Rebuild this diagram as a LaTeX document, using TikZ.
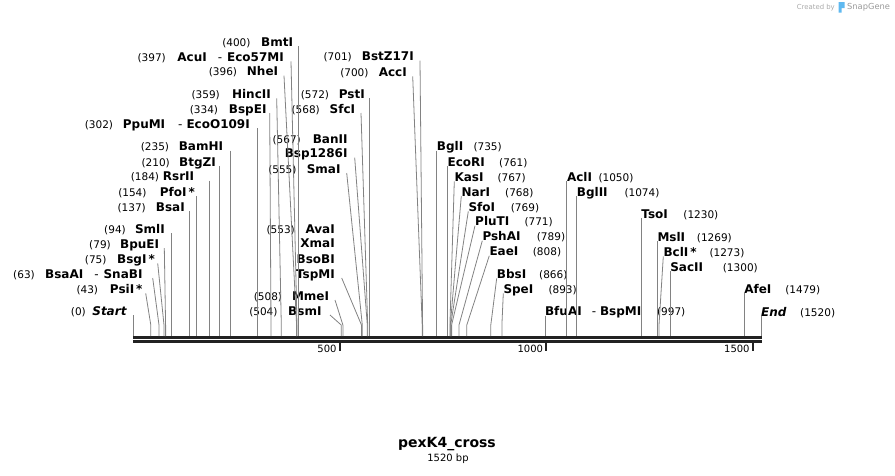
\documentclass[tikz,border=0pt]{standalone}
\usepackage{fontspec}
\setmainfont{DejaVu Sans}
\definecolor{sitegray}{RGB}{130,130,130}
\definecolor{bardark}{RGB}{34,34,34}
\definecolor{markgray}{RGB}{170,170,170}
\definecolor{snapblue}{RGB}{95,185,240}
\newcommand{\cutpos}[1]{{\fontsize{10.5}{12}\selectfont\mdseries(#1)}}

\begin{document}
\begin{tikzpicture}[x=1pt,y=-1pt]
\tikzstyle{every node}+=[inner sep=0pt]
\tikzstyle{lft}=[anchor=base east, font=\fontsize{12}{14}\selectfont\bfseries]
\tikzstyle{rgt}=[anchor=base west, font=\fontsize{12}{14}\selectfont\bfseries]
\tikzstyle{site}=[draw=sitegray, line width=0.8pt]
\tikzstyle{tick}=[draw=bardark, line width=1.8pt]
\useasboundingbox (0,0) rectangle (895,475);
\fill [bardark] (133,336) rectangle (761.5,339);
\fill [bardark] (133,340.3) rectangle (761.5,342.6);
\coordinate (bend) at (0,325);
\coordinate (s0) at (133,336);
\coordinate (s43) at (150.8,336);
\coordinate (s63) at (159,336);
\coordinate (s75) at (164,336);
\coordinate (s79) at (165.6,336);
\coordinate (s94) at (171.8,336);
\coordinate (s137) at (189.6,336);
\coordinate (s154) at (196.6,336);
\coordinate (s184) at (209,336);
\coordinate (s210) at (219.8,336);
\coordinate (s235) at (230.1,336);
\coordinate (s302) at (257.8,336);
\coordinate (s334) at (271,336);
\coordinate (s359) at (281.3,336);
\coordinate (s396) at (296.6,336);
\coordinate (s397) at (297,336);
\coordinate (s400) at (298.3,336);
\coordinate (s504) at (341.2,336);
\coordinate (s508) at (342.9,336);
\coordinate (s553) at (361.5,336);
\coordinate (s555) at (362.3,336);
\coordinate (s567) at (367.3,336);
\coordinate (s568) at (367.7,336);
\coordinate (s572) at (369.3,336);
\coordinate (s700) at (422.2,336);
\coordinate (s701) at (422.6,336);
\coordinate (s735) at (436.7,336);
\coordinate (s761) at (447.4,336);
\coordinate (s767) at (449.9,336);
\coordinate (s768) at (450.3,336);
\coordinate (s769) at (450.7,336);
\coordinate (s771) at (451.6,336);
\coordinate (s789) at (459,336);
\coordinate (s808) at (466.8,336);
\coordinate (s866) at (490.8,336);
\coordinate (s893) at (501.9,336);
\coordinate (s997) at (544.9,336);
\coordinate (s1050) at (566.8,336);
\coordinate (s1074) at (576.7,336);
\coordinate (s1230) at (641.2,336);
\coordinate (s1269) at (657.3,336);
\coordinate (s1273) at (659,336);
\coordinate (s1300) at (670.1,336);
\coordinate (s1479) at (744.1,336);
\coordinate (s1520) at (761,336);
\node [lft] (start) at (126.7,315.3) {\cutpos{0}\makebox[40.7pt][r]{\itshape Start}};
\node [lft] (psi) at (142.7,293.3) {\cutpos{43}\makebox[44.4pt][r]{PsiI\,*}};
\node [lft] (bsaa) at (142.7,278) {\cutpos{63}\makebox[107.7pt][r]{BsaAI\hspace{11pt}{\mdseries -}\hspace{5pt}SnaBI}};
\node [lft] (bsg) at (155,263.3) {\cutpos{75}\makebox[48.3pt][r]{BsgI\,*}};
\node [lft] (bpue) at (159.3,248) {\cutpos{79}\makebox[48.3pt][r]{BpuEI}};
\node [lft] (sml) at (165,233.3) {\cutpos{94}\makebox[39pt][r]{SmlI}};
\node [lft] (bsa) at (185,211) {\cutpos{137}\makebox[39pt][r]{BsaI}};
\node [lft] (pfo) at (195,196) {\cutpos{154}\makebox[48.3pt][r]{PfoI\,*}};
\node [lft] (rsr) at (194.3,180.7) {\cutpos{184}\makebox[35pt][r]{RsrII}};
\node [lft] (btgz) at (216,166.3) {\cutpos{210}\makebox[46pt][r]{BtgZI}};
\node [lft] (bamh) at (223.3,150.7) {\cutpos{235}\makebox[54pt][r]{BamHI}};
\node [lft] (ppum) at (250,128.3) {\cutpos{302}\makebox[136.7pt][r]{PpuMI\hspace{13pt}{\mdseries -}\hspace{4pt}EcoO109I}};
\node [lft] (bspe) at (266.7,113) {\cutpos{334}\makebox[48.4pt][r]{BspEI}};
\node [lft] (hinc) at (271,98.3) {\cutpos{359}\makebox[51pt][r]{HincII}};
\node [lft] (nhe) at (278.3,75.7) {\cutpos{396}\makebox[41pt][r]{NheI}};
\node [lft] (acu) at (284,61.3) {\cutpos{397}\makebox[118pt][r]{AcuI\hspace{11pt}{\mdseries -}\hspace{5pt}Eco57MI}};
\node [lft] (bmt) at (293.3,46.3) {\cutpos{400}\makebox[42.6pt][r]{BmtI}};
\node [lft] (bsm) at (321.7,315) {\cutpos{504}\makebox[44pt][r]{BsmI}};
\node [lft] (mme) at (329.3,300) {\cutpos{508}\makebox[47pt][r]{MmeI}};
\node [lft] (ava) at (335,233.3) {\cutpos{553}\makebox[40pt][r]{AvaI}};
\node [lft] (xma) at (335,247.3) {XmaI};
\node [lft] (bsob) at (335,263) {BsoBI};
\node [lft] (tspm) at (335,278) {TspMI};
\node [lft] (sma) at (340.7,173) {\cutpos{555}\makebox[44pt][r]{SmaI}};
\node [lft] (ban) at (347.7,143) {\cutpos{567}\makebox[46.7pt][r]{BanII}};
\node [lft] (bsp) at (347.7,157.7) {Bsp1286I};
\node [lft] (sfc) at (355.3,113) {\cutpos{568}\makebox[35.3pt][r]{SfcI}};
\node [lft] (pst) at (365,98) {\cutpos{572}\makebox[35.7pt][r]{PstI}};
\node [lft] (acc) at (407,76.3) {\cutpos{700}\makebox[38.3pt][r]{AccI}};
\node [lft] (bstz) at (414,60.7) {\cutpos{701}\makebox[62pt][r]{BstZ17I}};
\node [rgt] (bgl) at (436.7,150.7) {\makebox[36.6pt][l]{BglI}\cutpos{735}};
\node [rgt] (ecor) at (447.4,166.3) {\makebox[51.6pt][l]{EcoRI}\cutpos{761}};
\node [rgt] (kas) at (454.3,181.3) {\makebox[43pt][l]{KasI}\cutpos{767}};
\node [rgt] (nar) at (461.3,196) {\makebox[43.7pt][l]{NarI}\cutpos{768}};
\node [rgt] (sfo) at (468.3,211.3) {\makebox[42.4pt][l]{SfoI}\cutpos{769}};
\node [rgt] (plut) at (475,225.7) {\makebox[49.3pt][l]{PluTI}\cutpos{771}};
\node [rgt] (psha) at (482.3,240.7) {\makebox[54.4pt][l]{PshAI}\cutpos{789}};
\node [rgt] (eae) at (489.3,255.7) {\makebox[43.4pt][l]{EaeI}\cutpos{808}};
\node [rgt] (bbs) at (496.7,278.3) {\makebox[42.3pt][l]{BbsI}\cutpos{866}};
\node [rgt] (spe) at (503.3,293.3) {\makebox[45pt][l]{SpeI}\cutpos{893}};
\node [rgt] (bfua) at (544.9,315.7) {\makebox[112pt][l]{BfuAI\hspace{10pt}{\mdseries -}\hspace{4pt}BspMI}\cutpos{997}};
\node [rgt] (acl) at (566.8,181.3) {\makebox[31.5pt][l]{AclI}\cutpos{1050}};
\node [rgt] (bglii) at (576.7,196.3) {\makebox[47.6pt][l]{BglII}\cutpos{1074}};
\node [rgt] (tso) at (641.2,218.3) {\makebox[42pt][l]{TsoI}\cutpos{1230}};
\node [rgt] (msl) at (657.3,241.3) {\makebox[39.4pt][l]{MslI}\cutpos{1269}};
\node [rgt] (bcl) at (663.3,256.3) {\makebox[46pt][l]{BclI\,*}\cutpos{1273}};
\node [rgt] (sac) at (670.1,271.3) {\makebox[52.6pt][l]{SacII}\cutpos{1300}};
\node [rgt] (afe) at (744.1,293.3) {\makebox[41pt][l]{AfeI}\cutpos{1479}};
\node [rgt] (endlbl) at (761,316.3) {\makebox[39pt][l]{\itshape End}\cutpos{1520}};
\draw [site] (s0 |- start.base) -- (s0);
\draw [site] ([xshift=3pt]psi.base east) -- (s43 |- bend) -- (s43);
\draw [site] ([xshift=10pt]bsaa.base east) -- (s63 |- bend) -- (s63);
\draw [site] ([xshift=2.7pt]bsg.base east) -- (s75 |- bend) -- (s75);
\draw [site] ([xshift=5pt]bpue.base east) -- (s79 |- bend) -- (s79);
\draw [site] (s94 |- sml.base) -- (s94);
\draw [site] (s137 |- bsa.base) -- (s137);
\draw [site] (s154 |- pfo.base) -- (s154);
\draw [site] (s184 |- rsr.base) -- (s184);
\draw [site] (s210 |- btgz.base) -- (s210);
\draw [site] (s235 |- bamh.base) -- (s235);
\draw [site] (s302 |- ppum.base) -- (s302);
\draw [site] ([xshift=3pt]bspe.base east) -- (s334 |- bend) -- (s334);
\draw [site] ([xshift=5.7pt]hinc.base east) -- (s359 |- bend) -- (s359);
\draw [site] ([xshift=5.7pt]nhe.base east) -- (s396 |- bend) -- (s396);
\draw [site] ([xshift=7pt]acu.base east) -- (s397 |- bend) -- (s397);
\draw [site] (s400 |- bmt.base) -- (s400);
\draw [site] ([xshift=8.3pt]bsm.base east) -- (s504 |- bend) -- (s504);
\draw [site] ([xshift=5.7pt]mme.base east) -- (s508 |- bend) -- (s508);
\draw [site] ([xshift=6.7pt]tspm.base east) -- (s553 |- bend) -- (s553);
\draw [site] ([xshift=6pt]sma.base east) -- (s555 |- bend) -- (s555);
\draw [site] ([xshift=7pt]bsp.base east) -- (s567 |- bend) -- (s567);
\draw [site] ([xshift=5.7pt]sfc.base east) -- (s568 |- bend) -- (s568);
\draw [site] (s572 |- pst.base) -- (s572);
\draw [site] ([xshift=5.7pt]acc.base east) -- (s700 |- bend) -- (s700);
\draw [site] ([xshift=6pt]bstz.base east) -- (s701 |- bend) -- (s701);
\draw [site] (s735 |- bgl.base) -- (s735);
\draw [site] (s761 |- ecor.base) -- (s761);
\draw [site] (kas.base west) -- (s767 |- bend) -- (s767);
\draw [site] (nar.base west) -- (s768 |- bend) -- (s768);
\draw [site] (sfo.base west) -- (s769 |- bend) -- (s769);
\draw [site] (plut.base west) -- (s771 |- bend) -- (s771);
\draw [site] (psha.base west) -- (s789 |- bend) -- (s789);
\draw [site] (eae.base west) -- (s808 |- bend) -- (s808);
\draw [site] (bbs.base west) -- (s866 |- bend) -- (s866);
\draw [site] (spe.base west) -- (s893 |- bend) -- (s893);
\draw [site] (s997 |- bfua.base) -- (s997);
\draw [site] (s1050 |- acl.base) -- (s1050);
\draw [site] (s1074 |- bglii.base) -- (s1074);
\draw [site] (s1230 |- tso.base) -- (s1230);
\draw [site] (s1269 |- msl.base) -- (s1269);
\draw [site] (bcl.base west) -- (s1273 |- bend) -- (s1273);
\draw [site] (s1300 |- sac.base) -- (s1300);
\draw [site] (s1479 |- afe.base) -- (s1479);
\draw [site] (s1520 |- endlbl.base) -- (s1520);
\coordinate (t500) at (339.7,342.6);
\coordinate (t1000) at (546.2,342.6);
\coordinate (t1500) at (752.8,342.6);
\draw [tick] (t500) -- ++(0,8.5);
\draw [tick] (t1000) -- ++(0,8.5);
\draw [tick] (t1500) -- ++(0,8.5);
\node [anchor=east, font=\fontsize{10}{12}\selectfont] (l500) at ([xshift=-3pt,yshift=-6pt]t500) {500};
\node [anchor=east, font=\fontsize{10}{12}\selectfont] (l1000) at ([xshift=-3pt,yshift=-6pt]t1000) {1000};
\node [anchor=east, font=\fontsize{10}{12}\selectfont] (l1500) at ([xshift=-3pt,yshift=-6pt]t1500) {1500};
\node [font=\fontsize{14}{16}\selectfont\bfseries] (title) at (447,444) {pexK4\_cross};
\node [font=\fontsize{10}{12}\selectfont] (len) at (448,459) {1520 bp};
\node [anchor=east, text=markgray, font=\fontsize{6.9}{8}\selectfont] (made) at (835,7.5) {Created by};
\fill [snapblue] (838.5,2) -- (844.5,2) -- (844.5,8) -- (841.5,8) -- (841.5,12.5) -- (838.5,12.5) -- cycle;
\node [anchor=west, text=markgray!120, font=\fontsize{8.3}{10}\selectfont] (brand) at (847,7.5) {SnapGene};
\end{tikzpicture}
\end{document}
